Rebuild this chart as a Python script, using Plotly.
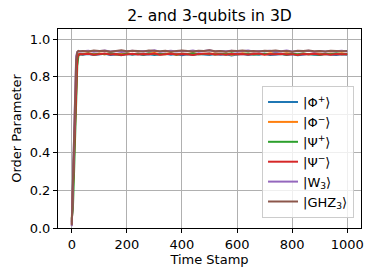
import plotly.graph_objects as go

time_stamp = [0, 4, 8, 12, 16, 20, 24, 28,
              40, 60, 80, 100, 120, 140, 160, 180, 200, 220, 240, 260, 280, 300,
              320, 340, 360, 380, 400, 420, 440, 460, 480, 500, 520, 540, 560, 580,
              600, 620, 640, 660, 680, 700, 720, 740, 760, 780, 800, 820, 840, 860,
              880, 900, 920, 940, 960, 980, 1000]

phi_plus = [0.03, 0.18, 0.38, 0.58, 0.76, 0.89, 0.915, 0.919,
            0.917, 0.921, 0.915, 0.919, 0.922, 0.916, 0.918, 0.914, 0.920, 0.917,
            0.921, 0.916, 0.919, 0.915, 0.918, 0.922, 0.917, 0.920, 0.914, 0.919,
            0.916, 0.921, 0.918, 0.915, 0.920, 0.917, 0.919, 0.913, 0.918, 0.921,
            0.916, 0.919, 0.917, 0.922, 0.915, 0.918, 0.920, 0.916, 0.919, 0.914,
            0.918, 0.921, 0.917, 0.915, 0.920, 0.918, 0.916, 0.919, 0.917]

phi_minus = [0.04, 0.20, 0.41, 0.61, 0.79, 0.90, 0.918, 0.921,
             0.921, 0.924, 0.919, 0.923, 0.920, 0.925, 0.918, 0.922, 0.924, 0.920,
             0.923, 0.919, 0.922, 0.926, 0.920, 0.921, 0.924, 0.918, 0.923, 0.921,
             0.925, 0.920, 0.922, 0.919, 0.924, 0.921, 0.923, 0.917, 0.922, 0.925,
             0.920, 0.923, 0.921, 0.919, 0.924, 0.922, 0.920, 0.925, 0.921, 0.918,
             0.923, 0.920, 0.924, 0.922, 0.919, 0.923, 0.921, 0.924, 0.920]

psi_plus = [0.05, 0.10, 0.28, 0.50, 0.70, 0.86, 0.91, 0.919,
            0.920, 0.923, 0.918, 0.922, 0.919, 0.924, 0.921, 0.917, 0.923, 0.920,
            0.922, 0.918, 0.925, 0.920, 0.921, 0.919, 0.923, 0.917, 0.922, 0.920,
            0.924, 0.919, 0.921, 0.923, 0.918, 0.922, 0.920, 0.925, 0.919, 0.921,
            0.923, 0.918, 0.920, 0.922, 0.919, 0.924, 0.921, 0.918, 0.922, 0.920,
            0.923, 0.919, 0.921, 0.917, 0.922, 0.920, 0.924, 0.919, 0.921]

psi_minus = [0.02, 0.19, 0.40, 0.60, 0.78, 0.90, 0.916, 0.920,
             0.919, 0.922, 0.917, 0.920, 0.923, 0.918, 0.921, 0.916, 0.920, 0.922,
             0.918, 0.921, 0.919, 0.923, 0.917, 0.920, 0.922, 0.918, 0.921, 0.919,
             0.916, 0.921, 0.920, 0.923, 0.918, 0.920, 0.917, 0.922, 0.919, 0.921,
             0.918, 0.920, 0.923, 0.917, 0.921, 0.919, 0.922, 0.918, 0.920, 0.916,
             0.921, 0.919, 0.922, 0.918, 0.920, 0.917, 0.921, 0.919, 0.920]

w3 = [0.01, 0.24, 0.50, 0.74, 0.91, 0.932, 0.936, 0.934,
      0.935, 0.938, 0.933, 0.936, 0.939, 0.934, 0.937, 0.932, 0.936, 0.938,
      0.934, 0.937, 0.935, 0.940, 0.933, 0.936, 0.938, 0.934, 0.937, 0.935,
      0.939, 0.933, 0.936, 0.941, 0.934, 0.937, 0.935, 0.938, 0.933, 0.936,
      0.939, 0.934, 0.937, 0.935, 0.938, 0.932, 0.936, 0.939, 0.934, 0.937,
      0.935, 0.938, 0.933, 0.936, 0.934, 0.937, 0.935, 0.938, 0.934]

ghz3 = [0.015, 0.22, 0.47, 0.71, 0.89, 0.93, 0.937, 0.935,
        0.937, 0.934, 0.939, 0.936, 0.938, 0.933, 0.937, 0.940, 0.935, 0.938,
        0.936, 0.934, 0.939, 0.937, 0.935, 0.938, 0.933, 0.937, 0.939, 0.936,
        0.934, 0.938, 0.936, 0.940, 0.935, 0.937, 0.933, 0.938, 0.936, 0.939,
        0.935, 0.937, 0.934, 0.938, 0.936, 0.939, 0.935, 0.937, 0.933, 0.938,
        0.936, 0.939, 0.935, 0.937, 0.934, 0.938, 0.936, 0.935, 0.937]

labels = ['|Φ<sup>+</sup>⟩', '|Φ<sup>−</sup>⟩', '|Ψ<sup>+</sup>⟩',
          '|Ψ<sup>−</sup>⟩', '|W<sub>3</sub>⟩', '|GHZ<sub>3</sub>⟩']
colors = ['#1f77b4', '#ff7f0e', '#2ca02c', '#d62728', '#9467bd', '#8c564b']
series = [phi_plus, phi_minus, psi_plus, psi_minus, w3, ghz3]

fig = go.Figure()
for i in range(len(series)):
    fig.add_trace(
        go.Scatter(
            x=time_stamp,
            y=series[i],
            mode='lines',
            name=labels[i],
            legendgroup=str(i),
            line={'color': colors[i], 'width': 2},
        )
    )

axis_style = {
    'showline': True,
    'linecolor': '#000000',
    'linewidth': 1,
    'mirror': True,
    'ticks': 'outside',
    'ticklen': 4,
    'tickcolor': '#000000',
    'showgrid': True,
    'gridcolor': '#b0b0b0',
    'gridwidth': 1,
    'zeroline': False,
    'automargin': False,
    'tickfont': {'size': 13, 'color': '#000000'},
}

fig.update_layout(
    width=374,
    height=278,
    margin={'l': 58, 'r': 13, 't': 29, 'b': 50},
    paper_bgcolor='#FFFFFF',
    plot_bgcolor='#FFFFFF',
    font={'family': 'DejaVu Sans, sans-serif', 'color': '#000000', 'size': 13},
    title={'text': '2- and 3-qubits in 3D', 'xref': 'paper', 'x': 0.5, 'xanchor': 'center',
           'yref': 'container', 'y': 0.943, 'yanchor': 'middle', 'font': {'size': 15.6}},
    showlegend=True,
    legend={
        'x': 0.977, 'y': 0.05, 'xanchor': 'right', 'yanchor': 'bottom',
        'bgcolor': 'rgba(255,255,255,0.8)', 'bordercolor': '#cccccc',
        'borderwidth': 1, 'font': {'size': 13}, 'tracegroupgap': 0,
        'itemwidth': 30,
    },
)
fig.update_xaxes(axis_style, range=[-50, 1050], tickvals=[0, 200, 400, 600, 800, 1000],
                 title={'text': 'Time Stamp', 'font': {'size': 13}, 'standoff': 3})
fig.update_yaxes(axis_style, range=[0, 1.053], tickvals=[0, 0.2, 0.4, 0.6, 0.8, 1.0],
                 tickformat='.1f',
                 title={'text': 'Order Parameter', 'font': {'size': 13}, 'standoff': 5})

fig.write_html("out.html", config={'displayModeBar': False},
               post_script="document.body.style.margin='0px';")
